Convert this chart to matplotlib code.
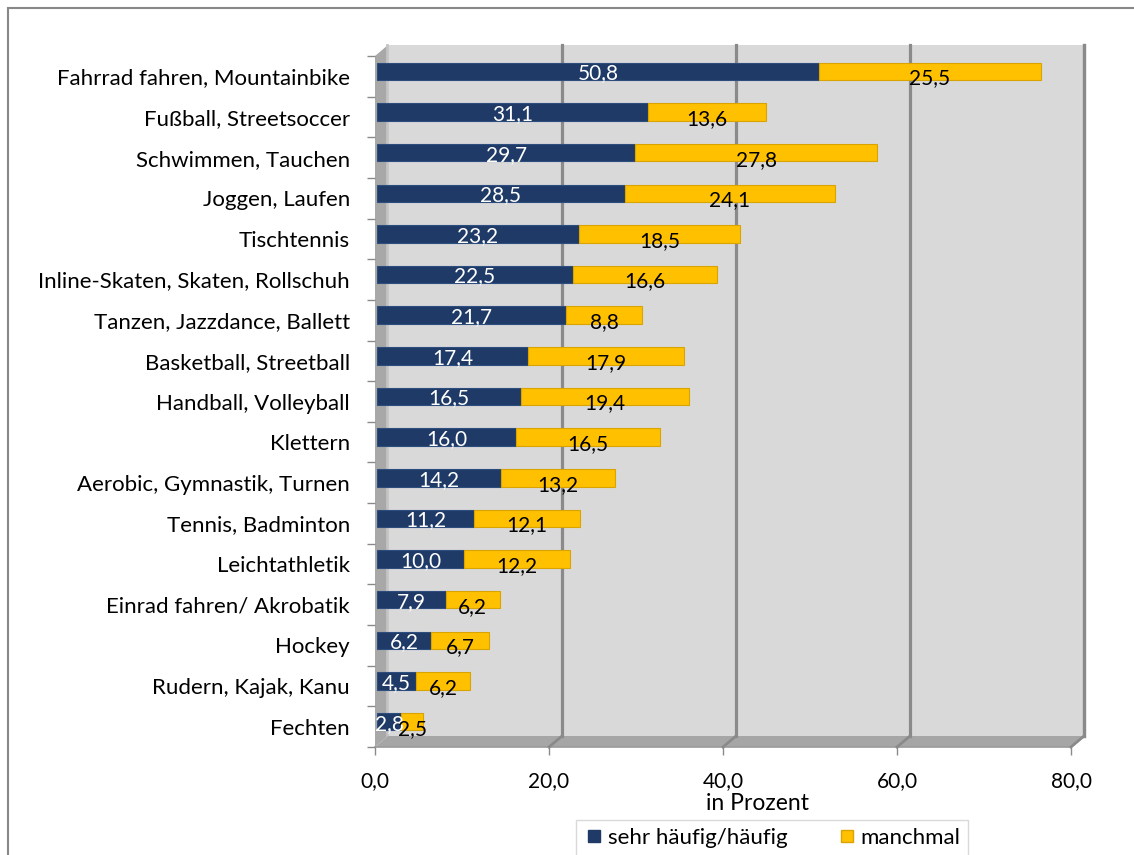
import matplotlib
matplotlib.use("Agg")
import matplotlib.pyplot as plt
from matplotlib import transforms
from matplotlib.patches import Polygon, Rectangle
from matplotlib.lines import Line2D

categories = [
    "Fahrrad fahren, Mountainbike", "Fußball, Streetsoccer", "Schwimmen, Tauchen",
    "Joggen, Laufen", "Tischtennis", "Inline-Skaten, Skaten, Rollschuh",
    "Tanzen, Jazzdance, Ballett", "Basketball, Streetball", "Handball, Volleyball",
    "Klettern", "Aerobic, Gymnastik, Turnen", "Tennis, Badminton", "Leichtathletik",
    "Einrad fahren/ Akrobatik", "Hockey", "Rudern, Kajak, Kanu", "Fechten",
]
sehr_haeufig = [50.8, 31.1, 29.7, 28.5, 23.2, 22.5, 21.7, 17.4, 16.5, 16.0, 14.2, 11.2, 10.0, 7.9, 6.2, 4.5, 2.8]
manchmal = [25.5, 13.6, 27.8, 24.1, 18.5, 16.6, 8.8, 17.9, 19.4, 16.5, 13.2, 12.1, 12.2, 6.2, 6.7, 6.2, 2.5]
xticks = [0, 20, 40, 60, 80]
series_names = ["sehr häufig/häufig", "manchmal"]

FONT = "Lato"
W, H = 1134, 855
fig = plt.figure(figsize=(W / 100, H / 100), dpi=100)
fig.patch.set_facecolor("white")

# front plane in image pixels
L, R, T, B = 375, 1071, 56, 747
DX, DY = 13, 11
ax = fig.add_axes([L / W, (H - B) / H, (R - L) / W, (B - T) / H])
ax.patch.set_visible(False)
for s in ax.spines.values():
    s.set_visible(False)
ax.set_xlim(0, 80)
ax.set_ylim(len(categories) - 0.5, -0.5)

ID = transforms.IdentityTransform()


def P(x, y):
    return (x, H - y)


def xpix(v):
    return L + (R - L) * v / 80.0


# back wall
fig.add_artist(Polygon([P(L + DX, T - DY), P(R + DX, T - DY), P(R + DX, B - DY), P(L + DX, B - DY)],
                       closed=True, transform=ID, facecolor="#d9d9d9", edgecolor="none", zorder=-3))
# left wall
fig.add_artist(Polygon([P(L, B), P(L, T), P(L + DX, T - DY), P(L + DX, B - DY)],
                       closed=True, transform=ID, facecolor="#a8a8a8", edgecolor="none", zorder=-2))
fig.add_artist(Line2D([L + DX - 1, L + DX - 1], [H - (T - DY), H - (B - DY)], transform=ID,
                      color="#c4c4c4", lw=2, zorder=-2))
# floor
fig.add_artist(Polygon([P(L, B), P(R, B), P(R + DX, B - DY), P(L + DX, B - DY)],
                       closed=True, transform=ID, facecolor="#a6a6a6", edgecolor="none", zorder=-2))
fig.add_artist(Line2D([L, R], [H - B, H - B], transform=ID, color="#9a9a9a", lw=1.2, zorder=-2))
# gridlines
for v in xticks[1:]:
    xp = xpix(v)
    fig.add_artist(Line2D([xp + DX, xp + DX], [H - (T - DY), H - (B - DY)], transform=ID,
                          color="#8a8a8a", lw=2.3, zorder=-2))
    fig.add_artist(Line2D([xp, xp + DX], [H - B, H - (B - DY)], transform=ID,
                          color="#8a8a8a", lw=2.0, zorder=-2))
fig.add_artist(Line2D([R + DX, R + DX], [H - (T - DY), H - (B - DY)], transform=ID,
                      color="#8a8a8a", lw=2.3, zorder=-2))

# bars
bar_tr = transforms.offset_copy(ax.transData, fig=fig, x=2, y=5, units="dots")
ypos = list(range(len(categories)))
ax.barh(ypos, sehr_haeufig, height=0.43, color="#1f3a66", edgecolor="#2d4d7e", linewidth=0.8,
        transform=bar_tr, zorder=3)
ax.barh(ypos, manchmal, left=sehr_haeufig, height=0.43, color="#ffc000", edgecolor="#d9a300",
        linewidth=0.8, transform=bar_tr, zorder=3)

lab_w = transforms.offset_copy(ax.transData, fig=fig, x=2, y=3, units="dots")
lab_y = transforms.offset_copy(ax.transData, fig=fig, x=2, y=-2, units="dots")
for i, (a, b) in enumerate(zip(sehr_haeufig, manchmal)):
    ax.text(a / 2, i, f"{a:.1f}".replace(".", ","), transform=lab_w, ha="center", va="center",
            color="white", fontsize=15, family=FONT, zorder=5)
    ax.text(a + b / 2, i, f"{b:.1f}".replace(".", ","), transform=lab_y, ha="center", va="center",
            color="black", fontsize=15, family=FONT, zorder=5)

# axes ticks
ax.set_yticks(ypos)
ax.set_yticklabels(categories, family=FONT, fontsize=16)
ax.set_yticks([k - 0.5 for k in range(len(categories) + 1)], minor=True)
ax.tick_params(axis="y", which="major", length=0, pad=18)
ax.tick_params(axis="y", which="minor", length=6, width=1, color="#8a8a8a", direction="out")
ax.set_xticks(xticks)
ax.set_xticklabels([f"{v:.1f}".replace(".", ",") for v in xticks], family=FONT, fontsize=15)
ax.tick_params(axis="x", length=6, width=1, color="#8a8a8a", pad=11)

fig.text(757 / W, (H - 803) / H, "in Prozent", ha="center", va="center", family=FONT, fontsize=16.5)

# legend
handles = [Line2D([], [], marker="s", linestyle="none", markersize=9, markerfacecolor="#1f3a66",
                  markeredgecolor="#1f3a66"),
           Line2D([], [], marker="s", linestyle="none", markersize=9, markerfacecolor="#ffc000",
                  markeredgecolor="#d9a300")]
leg = fig.legend(handles, series_names, loc="upper center", bbox_to_anchor=(772 / W, (H - 820) / H),
                 ncol=2, frameon=True, fancybox=False, edgecolor="#d0d0d0", columnspacing=2.2,
                 handletextpad=0.1, handlelength=1.0, borderpad=0.35, borderaxespad=0,
                 prop={"family": FONT, "size": 16})
leg.get_frame().set_linewidth(1.0)

# outer border
fig.add_artist(Rectangle((8 / W, -0.1), 1.2, (H - 8) / H + 0.1, transform=fig.transFigure,
                         facecolor="none", edgecolor="#888888", lw=1.5, zorder=-5))

fig.savefig("out.png", dpi=100)
